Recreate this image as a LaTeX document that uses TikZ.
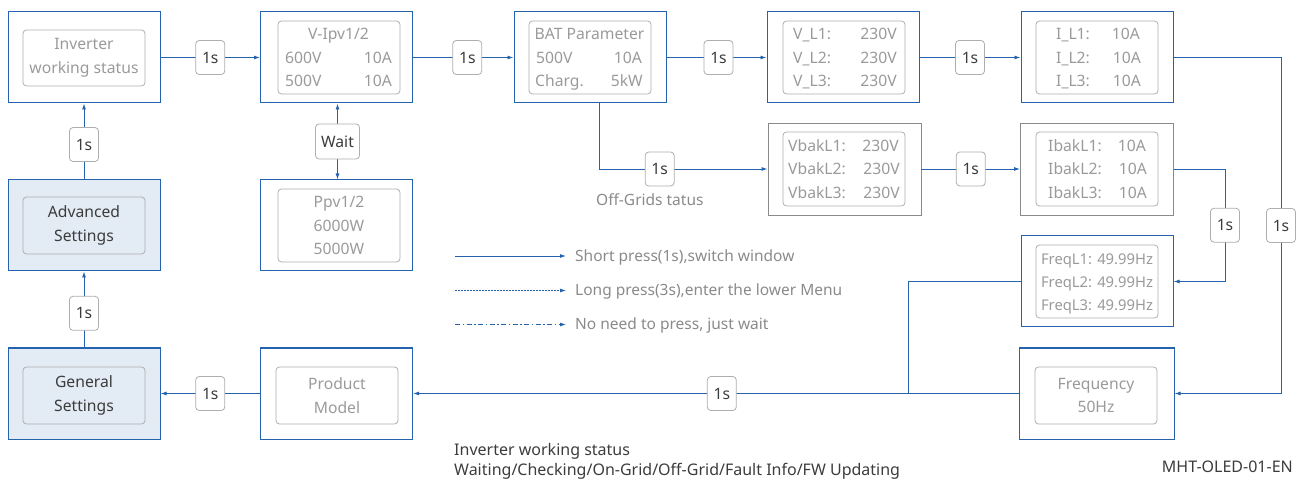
\documentclass[tikz,border=0pt]{standalone}
\usepackage{fontspec}
\setmainfont{Noto Sans}
\usetikzlibrary{arrows.meta,calc}
\definecolor{bl}{HTML}{2563AE}
\definecolor{ingray}{HTML}{AEAEAE}
\definecolor{txgray}{HTML}{9A9A9A}
\definecolor{dkgray}{HTML}{8A8A8A}
\definecolor{fillbl}{HTML}{E3EBF5}
\definecolor{dark}{HTML}{3C3C3C}
\begin{document}
\begin{tikzpicture}[x=1pt,y=-1pt,
  outer/.style={draw=bl,line width=1pt,minimum width=152pt,minimum height=91pt,inner sep=0pt},
  outergray/.style={draw=dkgray,line width=0.9pt,minimum width=153pt,minimum height=92pt,inner sep=0pt},
  inner/.style={draw=ingray,line width=0.8pt,rounded corners=3.5pt,minimum width=122pt,inner sep=0pt,
    text=txgray,font=\fontsize{15.7}{23.5}\selectfont,align=center},
  txt/.style={text=txgray,font=\fontsize{15.7}{18}\selectfont,inner sep=0pt},
  lbl/.style={draw=ingray,line width=0.8pt,fill=white,rounded corners=3.5pt,minimum width=29pt,minimum height=34pt,
    inner sep=0pt,text=dark,font=\fontsize{15.7}{18}\selectfont},
  tip/.tip={Latex[length=6pt,width=4pt]},
  arr/.style={draw=bl,line width=0.9pt,-tip},
  ln/.style={draw=bl,line width=0.9pt},
  legtxt/.style={text=dkgray,font=\fontsize{15.5}{18}\selectfont,inner sep=0pt,anchor=base west},
  btxt/.style={text=dark,font=\fontsize{16}{18}\selectfont,inner sep=0pt},
]
\useasboundingbox (0,0) rectangle (1304,486);

% ---------- outer boxes ----------
\node[outer] (inv) at (84,57.5) {};
\node[outer] (vipv) at (336.5,57.5) {};
\node[outer] (bat) at (590,57.5) {};
\node[outer] (vl) at (843,57.5) {};
\node[outer] (il) at (1097,57.5) {};
\node[outergray] (vbak) at (844.5,169) {};
\node[outergray] (ibak) at (1097,169) {};
\node[outer] (freql) at (1097,281.5) {};
\node[outer,minimum width=155pt] (freq) at (1096.5,393.5) {};
\node[outer,fill=fillbl] (adv) at (84,225.5) {};
\node[outer,fill=fillbl] (gen) at (84,393.5) {};
\node[outer] (ppv) at (336.5,225.5) {};
\node[outer] (prod) at (336.5,393.5) {};

% ---------- inner boxes ----------
\node[inner,minimum height=56pt] (inv-in) at (84,58) {Inverter\\working status};
\node[inner,minimum height=73pt] (vipv-in) at (339,57.5) {};
\node[inner,minimum height=73pt] (bat-in) at (590,57.5) {};
\node[inner,minimum height=73pt] (vl-in) at (844,57.5) {};
\node[inner,minimum height=73pt] (il-in) at (1097,57.5) {};
\node[inner,minimum height=74pt] (vbak-in) at (844,169) {};
\node[inner,minimum height=74pt] (ibak-in) at (1097,169) {};
\node[inner,minimum height=73pt] (freql-in) at (1097,281.5) {};
\node[inner,minimum height=57pt] (freq-in) at (1096,395.5) {Frequency\\50Hz};
\node[inner,minimum height=57pt,fill=fillbl,text=dark] (adv-in) at (84,225.5) {Advanced\\Settings};
\node[inner,minimum height=57pt,fill=fillbl,text=dark] (gen-in) at (84,395.5) {General\\Settings};
\node[inner,minimum height=73pt] (ppv-in) at (339,225.5) {Ppv1/2\\6000W\\5000W};
\node[inner,minimum height=57pt] (prod-in) at (337,395.5) {Product\\Model};

% ---------- V-Ipv texts ----------
\node[txt,anchor=base] (vipv-t) at (338.5,39.5) {V-Ipv1/2};
\node[txt,anchor=base west] (vipv-a1) at (285,63.3) {600V};
\node[txt,anchor=base east] (vipv-b1) at (392,63.3) {10A};
\node[txt,anchor=base west] (vipv-a2) at (285,87) {500V};
\node[txt,anchor=base east] (vipv-b2) at (392,87) {10A};
% ---------- BAT texts ----------
\node[txt,anchor=base] (bat-t) at (589.5,39.5) {BAT Parameter};
\node[txt,anchor=base west] (bat-a1) at (536,63.3) {500V};
\node[txt,anchor=base east] (bat-b1) at (642,63.3) {10A};
\node[txt,anchor=base west] (bat-a2) at (535,87) {Charg.};
\node[txt,anchor=base east] (bat-b2) at (643,87) {5kW};
% ---------- V_L texts ----------
\node[txt,anchor=base west] (vl-a1) at (793,39.5) {V\_L1:};
\node[txt,anchor=base east] (vl-b1) at (897,39.5) {230V};
\node[txt,anchor=base west] (vl-a2) at (793,63.3) {V\_L2:};
\node[txt,anchor=base east] (vl-b2) at (897,63.3) {230V};
\node[txt,anchor=base west] (vl-a3) at (793,87) {V\_L3:};
\node[txt,anchor=base east] (vl-b3) at (897,87) {230V};
% ---------- I_L texts ----------
\node[txt,anchor=base west] (il-a1) at (1056,39.5) {I\_L1:};
\node[txt,anchor=base east] (il-b1) at (1140,39.5) {10A};
\node[txt,anchor=base west] (il-a2) at (1056,63.3) {I\_L2:};
\node[txt,anchor=base east] (il-b2) at (1141,63.3) {10A};
\node[txt,anchor=base west] (il-a3) at (1056,87) {I\_L3:};
\node[txt,anchor=base east] (il-b3) at (1141,87) {10A};
% ---------- Vbak texts ----------
\node[txt,anchor=base west] (vbak-a1) at (788,151.5) {VbakL1:};
\node[txt,anchor=base east] (vbak-b1) at (899,151.5) {230V};
\node[txt,anchor=base west] (vbak-a2) at (788,175) {VbakL2:};
\node[txt,anchor=base east] (vbak-b2) at (900,175) {230V};
\node[txt,anchor=base west] (vbak-a3) at (788,198.5) {VbakL3:};
\node[txt,anchor=base east] (vbak-b3) at (900,198.5) {230V};
% ---------- Ibak texts ----------
\node[txt,anchor=base west] (ibak-a1) at (1048,151.5) {IbakL1:};
\node[txt,anchor=base east] (ibak-b1) at (1146,151.5) {10A};
\node[txt,anchor=base west] (ibak-a2) at (1048,175) {IbakL2:};
\node[txt,anchor=base east] (ibak-b2) at (1147,175) {10A};
\node[txt,anchor=base west] (ibak-a3) at (1048,198.5) {IbakL3:};
\node[txt,anchor=base east] (ibak-b3) at (1147,198.5) {10A};
% ---------- FreqL texts ----------
\node[txt,anchor=base,font=\fontsize{14.8}{18}\selectfont] (freql-1) at (1097,265) {FreqL1: 49.99Hz};
\node[txt,anchor=base,font=\fontsize{14.8}{18}\selectfont] (freql-2) at (1097,288) {FreqL2: 49.99Hz};
\node[txt,anchor=base,font=\fontsize{14.8}{18}\selectfont] (freql-3) at (1097,311) {FreqL3: 49.99Hz};

% ---------- connectors ----------
\draw[arr] (inv) -- node[lbl] (l1) {1s} (vipv);
\draw[arr] (vipv) -- node[lbl,pos=0.54] (l2) {1s} (bat);
\draw[arr] (bat) -- node[lbl,pos=0.52] (l3) {1s} (vl);
\draw[arr] (vl) -- node[lbl] (l4) {1s} (il);
\draw[arr] ([xshift=9pt]bat.south) |- node[lbl,pos=0.68] (l5) {1s} (vbak.west);
\node[txt,text=dkgray,anchor=base west,font=\fontsize{15.5}{18}\selectfont] (offgrid) at (596,205.5) {Off-Grids tatus};
\draw[arr] (vbak) -- node[lbl] (l6) {1s} (ibak);
\coordinate (c1) at (1225,169);
\draw[arr] (ibak.east) -- (c1) -- node[lbl] (l7) {1s} (c1 |- freql.east) -- (freql.east);
\coordinate (c2) at (1281,57.5);
\draw[arr] (il.east) -- (c2) -- node[lbl] (l8) {1s} (c2 |- freq.east) -- (freq.east);
\coordinate (c3) at (908,281.5);
\draw[ln] (freql.west) -- (c3) -- (c3 |- freq.west);
\draw[arr] (freq) -- node[lbl,pos=0.49] (l9) {1s} (prod);
\draw[arr] (prod) -- node[lbl] (l10) {1s} (gen);
\draw[arr] (gen) -- node[lbl,pos=0.45] (l11) {1s} (adv);
\draw[arr] (adv) -- node[lbl,pos=0.46] (l12) {1s} (inv);
\draw[ln,tip-tip] ([xshift=1pt]vipv.south) -- node[lbl,minimum width=44pt,minimum height=35pt] (lw) {Wait} ([xshift=1pt]ppv.north);

% ---------- legend ----------
\coordinate (la1) at (455,256);   \coordinate (lb1) at (566,256);
\coordinate (la2) at (455,290.5); \coordinate (lb2) at (566,290.5);
\coordinate (la3) at (455,324.5); \coordinate (lb3) at (566,324.5);
\draw[arr] (la1) -- (lb1);
\draw[arr,line width=0.8pt,dash pattern=on 2pt off 1pt] (la2) -- (lb2);
\draw[arr,line width=0.8pt,dash pattern=on 5pt off 2.5pt on 1.5pt off 2.5pt] (la3) -- (lb3);
\node[legtxt] (lt1) at (575,262) {Short press(1s),switch window};
\node[legtxt] (lt2) at (575,296) {Long press(3s),enter the lower Menu};
\node[legtxt] (lt3) at (575,330) {No need to press, just wait};

% ---------- bottom notes ----------
\node[btxt,anchor=base west] (note1) at (454,455) {Inverter working status};
\node[btxt,anchor=base west] (note2) at (454,475) {Waiting/Checking/On-Grid/Off-Grid/Fault Info/FW Updating};
\node[btxt,anchor=base east] (code) at (1293,472) {MHT-OLED-01-EN};
\end{tikzpicture}
\end{document}
